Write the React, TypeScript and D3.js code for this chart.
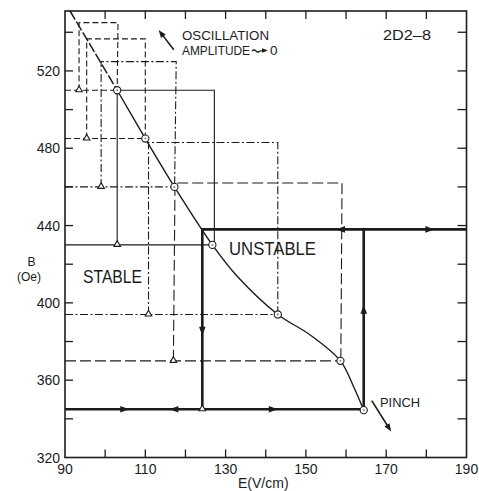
import React from "react";
import * as d3 from "d3";

type P = [number, number];

// ---------- data (E in V/cm, B in Oe) ----------
const xTicksMajor = [90, 110, 130, 150, 170, 190];
const xTicksMinor = [100, 110, 120, 130, 140, 150, 160, 170, 180];
const yTicksMajor = [320, 360, 400, 440, 480, 520];
const yTicksMinor = [340, 360, 380, 400, 420, 440, 460, 480, 500, 520, 540];

// boundary curve (circles = measured points)
const curvePts: P[] = [
  [103, 510], [110, 485], [117.25, 460], [126.7, 430], [133, 413.5],
  [143, 394], [151, 383.5], [158.6, 370], [161.8, 357], [164.4, 344.5],
];
const curveExtrap: P[] = [[91.25, 551], [103, 510]];

const circleE = [103, 110, 117.25, 126.7, 143, 158.6, 164.4];
const circleB = [510, 485, 460, 430, 394, 370, 344.5];
const triangleE = [93.5, 95.4, 99, 103, 110.8, 117, 124.2];
const triangleB = [510, 485, 460, 430, 394, 370, 345];

// loop B = 510 / 430
const loop1Solid: P[][] = [
  [[90, 430], [126.7, 430]],
  [[103, 510], [127.2, 510], [127.2, 430]],
  [[103, 510], [103, 430]],
];
const loop1Dash: P[][] = [
  [[90, 510], [103, 510]],
  [[93.5, 510], [93.5, 545], [103.2, 545], [103, 510]],
];
// loop B = 485 / 394
const loop2Dash: P[][] = [
  [[90, 485], [110, 485]],
  [[95.4, 485], [95.4, 536.6], [110, 536.6], [110, 485]],
];
const loop2DashDot: P[][] = [
  [[110.8, 394], [110.8, 483], [143, 483], [143, 394]],
  [[90, 394], [143, 394]],
];
// loop B = 460 / 370
const loop3DashDot: P[][] = [
  [[90, 460], [117.25, 460]],
  [[99, 460], [99, 524.8], [117.7, 524.8], [117.3, 460]],
];
const loop3LongDash: P[][] = [
  [[117, 370], [117.4, 462], [159, 462], [158.7, 370]],
  [[90, 370], [158.6, 370]],
];
// heavy hysteresis path
const heavyPath: P[][] = [
  [[124.2, 345], [124.2, 438], [190, 438]],
  [[90, 345], [164.4, 345], [164.4, 438]],
];
const arrowE = [157.5, 182, 124.2, 164.4, 106, 116, 143];
const arrowB = [438, 438, 383, 399, 345, 345, 345];
const arrowDir = ["left", "right", "down", "up", "right", "left", "right"];

const oscArrow: P[] = [[117.1, 530.9], [113.3, 541.2]];
const pinchArrow: P[] = [[166.4, 349.4], [171.25, 333.4]];

// ---------- chart ----------
const W = 479;
const H = 491;
const INK = "#1c1c1c";
const FONT = "'Liberation Sans', Arial, sans-serif";

export default function App() {
  const x = d3.scaleLinear().domain([90, 190]).range([65, 466.5]);
  const y = d3.scaleLinear().domain([320, 551]).range([457.5, 11]);
  const line = d3.line<P>().x((d) => x(d[0])).y((d) => y(d[1]));
  const smooth = d3
    .line<P>()
    .x((d) => x(d[0]))
    .y((d) => y(d[1]))
    .curve(d3.curveCatmullRom.alpha(0.5));

  const paths = (set: P[][], dash: string | undefined, w: number, key: string) =>
    set.map((pts, i) => (
      <path
        key={key + i}
        d={line(pts) || ""}
        fill="none"
        stroke={INK}
        strokeWidth={w}
        strokeDasharray={dash}
      />
    ));

  const arrowHead = (px: number, py: number, angle: number, len = 9, half = 3.2, key?: string) => {
    const ca = Math.cos(angle), sa = Math.sin(angle);
    const bx = px - ca * len, by = py - sa * len;
    const p1 = [bx - sa * half, by + ca * half];
    const p2 = [bx + sa * half, by - ca * half];
    return (
      <path key={key} d={`M${px},${py}L${p1[0]},${p1[1]}L${p2[0]},${p2[1]}Z`} fill={INK} />
    );
  };

  const dirAngle: Record<string, number> = {
    right: 0,
    left: Math.PI,
    down: Math.PI / 2,
    up: -Math.PI / 2,
  };

  const annotArrow = (pts: P[], key: string) => {
    const [a, b] = pts;
    const ax = x(a[0]), ay = y(a[1]), bx = x(b[0]), by = y(b[1]);
    const ang = Math.atan2(by - ay, bx - ax);
    return (
      <g key={key}>
        <line x1={ax} y1={ay} x2={bx - Math.cos(ang) * 4} y2={by - Math.sin(ang) * 4} stroke={INK} strokeWidth={1.6} />
        {arrowHead(bx, by, ang, 8, 3)}
      </g>
    );
  };

  const x0 = x(90), x1 = x(190), y0 = y(320), y1 = y(551);

  return (
    <svg width={W} height={H} style={{ display: "block", position: "absolute", left: 0, top: 0 }}>
      <rect x={0} y={0} width={W} height={H} fill="#fff" />

      {/* frame */}
      <rect x={x0} y={y1} width={x1 - x0} height={y0 - y1} fill="none" stroke={INK} strokeWidth={1.6} />

      {/* ticks */}
      {xTicksMinor.map((t) => (
        <g key={"xt" + t}>
          <line x1={x(t)} x2={x(t)} y1={y0} y2={y0 - 8} stroke={INK} strokeWidth={1.3} />
          <line x1={x(t)} x2={x(t)} y1={y1} y2={y1 + 8} stroke={INK} strokeWidth={1.3} />
        </g>
      ))}
      {yTicksMinor.map((t) => (
        <g key={"yt" + t}>
          <line x1={x0} x2={x0 + 8} y1={y(t)} y2={y(t)} stroke={INK} strokeWidth={1.3} />
          <line x1={x1} x2={x1 - 9} y1={y(t)} y2={y(t)} stroke={INK} strokeWidth={1.3} />
        </g>
      ))}
      {xTicksMajor.map((t) => (
        <text key={"xl" + t} x={x(t)} y={474} textAnchor="middle" fontFamily={FONT} fontSize={14} fill={INK}>
          {t}
        </text>
      ))}
      {yTicksMajor.map((t) => (
        <text key={"yl" + t} x={60} y={y(t)} dy="0.36em" textAnchor="end" fontFamily={FONT} fontSize={14} fill={INK}>
          {t}
        </text>
      ))}

      {/* axis titles */}
      <text x={31.5} y={266} textAnchor="middle" fontFamily={FONT} fontSize={12} fill={INK}>B</text>
      <text x={29} y={281} textAnchor="middle" fontFamily={FONT} fontSize={12} fill={INK}>(Oe)</text>
      <text x={238} y={488} fontFamily={FONT} fontSize={14} fill={INK}>E(V/cm)</text>

      {/* loops */}
      {paths(loop1Solid, undefined, 1.1, "l1s")}
      {paths(loop1Dash, "6,3", 1.1, "l1d")}
      {paths(loop2Dash, "6,3", 1.1, "l2d")}
      {paths(loop2DashDot, "8,2.5,2,2.5", 1.1, "l2dd")}
      {paths(loop3DashDot, "8,2.5,2,2.5", 1.1, "l3dd")}
      {paths(loop3LongDash, "11,4", 1.1, "l3ld")}
      {paths(heavyPath, undefined, 2.6, "hp")}

      {/* boundary curve */}
      <path d={line(curveExtrap) || ""} fill="none" stroke={INK} strokeWidth={1.5} strokeDasharray="10,2.5" />
      <path d={smooth(curvePts) || ""} fill="none" stroke={INK} strokeWidth={1.4} />

      {/* direction arrows */}
      {arrowE.map((e, i) => arrowHead(x(e), y(arrowB[i]), dirAngle[arrowDir[i]], 9, 3.3, "ar" + i))}

      {/* triangles */}
      {triangleE.map((e, i) => {
        const cx = x(e), cy = y(triangleB[i]);
        return (
          <path
            key={"tr" + i}
            d={`M${cx - 3.3},${cy + 1.5}L${cx + 3.3},${cy + 1.5}L${cx},${cy - 4.2}Z`}
            fill="#fff"
            stroke={INK}
            strokeWidth={1.1}
          />
        );
      })}

      {/* circles */}
      {circleE.map((e, i) => (
        <g key={"c" + i}>
          <circle cx={x(e)} cy={y(circleB[i])} r={3.6} fill="#fff" stroke={INK} strokeWidth={1.1} />
          <circle cx={x(e)} cy={y(circleB[i])} r={1} fill="#888" />
        </g>
      ))}

      {/* annotations */}
      {annotArrow(oscArrow, "osc")}
      {annotArrow(pinchArrow, "pinch")}
      <text x={182} y={40} fontFamily={FONT} fontSize={13.5} textLength={87} lengthAdjust="spacingAndGlyphs" fill={INK}>
        OSCILLATION
      </text>
      <text x={182} y={55} fontFamily={FONT} fontSize={13.5} textLength={68} lengthAdjust="spacingAndGlyphs" fill={INK}>
        AMPLITUDE
      </text>
      <path d="M252,51 q2,-2 4,0 t4,0 L264,50.5" fill="none" stroke={INK} strokeWidth={1.2} />
      {arrowHead(268, 50.5, 0, 6, 2.2, "amp")}
      <text x={270} y={55} fontFamily={FONT} fontSize={13.5} fill={INK}>0</text>
      <text x={383} y={40} fontFamily={FONT} fontSize={14} textLength={48} lengthAdjust="spacingAndGlyphs" fill={INK}>
        2D2–8
      </text>
      <text x={83} y={283} fontFamily={FONT} fontSize={17.5} textLength={59} lengthAdjust="spacingAndGlyphs" fill={INK}>
        STABLE
      </text>
      <text x={229} y={255} fontFamily={FONT} fontSize={17.5} textLength={87} lengthAdjust="spacingAndGlyphs" fill={INK}>
        UNSTABLE
      </text>
      <text x={380} y={407} fontFamily={FONT} fontSize={13.5} textLength={40} lengthAdjust="spacingAndGlyphs" fill={INK}>
        PINCH
      </text>
    </svg>
  );
}
